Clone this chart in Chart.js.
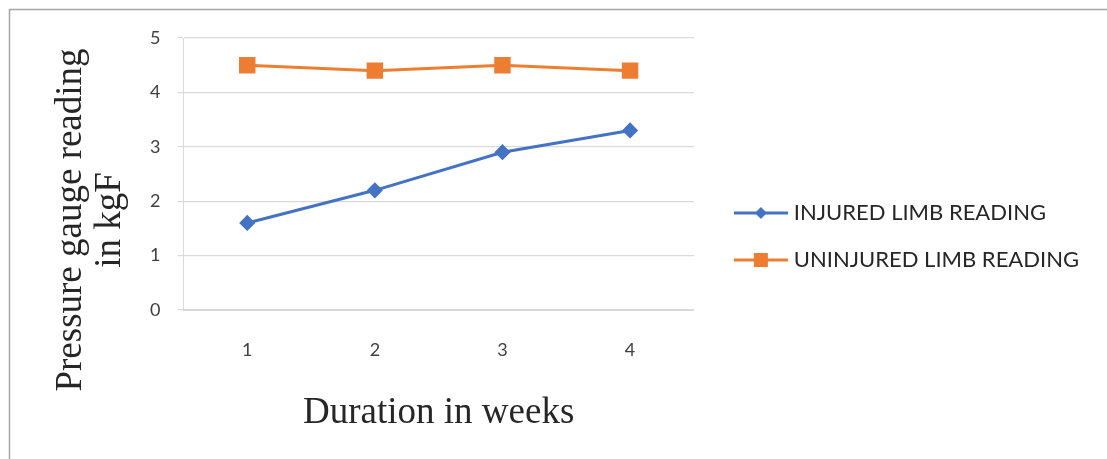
<!DOCTYPE html>
<html>
<head>
<meta charset="utf-8">
<script src="https://cdn.jsdelivr.net/npm/chart.js@4.4.0/dist/chart.umd.min.js"></script>
<style>
  html, body { margin: 0; padding: 0; background: #fff; }
  #wrap { width: 1107px; height: 459px; position: relative; }
</style>
</head>
<body>
<div id="wrap"><canvas id="limbChart"></canvas></div>
<script>
// data
const weeks = ['1', '2', '3', '4'];
const injuredReading = [1.6, 2.2, 2.9, 3.3];
const uninjuredReading = [4.5, 4.4, 4.5, 4.4];
const yTicks = [0, 1, 2, 3, 4, 5];
const yTitleLines = ['Pressure gauge reading', 'in kgF'];

const blue = '#4472C4';
const orange = '#ED7D31';
const gridGrey = '#d9d9d9';
const serif = "'Liberation Serif', serif";

// legend icon: blank lead-in, then a short line with the marker in the middle
function legendIcon(color, shape) {
    const c = document.createElement('canvas');
    c.width = 74; c.height = 16;
    const g = c.getContext('2d');
    g.strokeStyle = color;
    g.lineWidth = 3;
    g.beginPath();
    g.moveTo(20, 8); g.lineTo(74, 8);
    g.stroke();
    g.fillStyle = color;
    const mx = 47;
    if (shape === 'diamond') {
        g.beginPath();
        g.moveTo(mx, 2); g.lineTo(mx + 6, 8); g.lineTo(mx, 14); g.lineTo(mx - 6, 8);
        g.closePath(); g.fill();
    } else {
        g.fillRect(mx - 7, 1, 14, 14);
    }
    return c;
}

// grey outer frame + the y title (centred on the whole frame, not the plot)
const frame = {
    id: 'frame',
    beforeDraw(chart) {
        const { ctx } = chart;
        ctx.save();
        ctx.fillStyle = '#fff';
        ctx.fillRect(0, 0, chart.width, chart.height);
        ctx.strokeStyle = '#a6a6a6';
        ctx.lineWidth = 1.5;
        ctx.strokeRect(9.5, 9.5, chart.width + 20, chart.height + 20);
        ctx.restore();
    },
    afterDraw(chart) {
        const { ctx } = chart;
        ctx.save();
        ctx.translate(71, 220);
        ctx.rotate(-Math.PI / 2);
        ctx.font = '37px ' + serif;
        ctx.fillStyle = '#262626';
        ctx.textAlign = 'center';
        ctx.textBaseline = 'middle';
        yTitleLines.forEach((t, i) => ctx.fillText(t, 0, i * 39));
        ctx.restore();
    }
};

function draw() {
    new Chart(document.getElementById('limbChart'), {
        type: 'line',
        data: {
            labels: weeks,
            datasets: [
                {
                    label: 'INJURED LIMB READING',
                    data: injuredReading,
                    borderColor: blue,
                    backgroundColor: blue,
                    borderWidth: 3,
                    pointStyle: 'rectRot',
                    pointRadius: 6,
                    pointHoverRadius: 6,
                    tension: 0
                },
                {
                    label: 'UNINJURED LIMB READING',
                    data: uninjuredReading,
                    borderColor: orange,
                    backgroundColor: orange,
                    borderWidth: 3,
                    pointStyle: 'rect',
                    pointRadius: 9.5,
                    pointHoverRadius: 9.5,
                    tension: 0
                }
            ]
        },
        options: {
            responsive: true,
            maintainAspectRatio: false,
            animation: false,
            layout: { padding: { top: 38, right: 18, bottom: 24, left: 133 } },
            plugins: {
                tooltip: { enabled: false },
                legend: {
                    position: 'right',
                    maxWidth: 440,
                    labels: {
                        usePointStyle: true,
                        pointStyleWidth: 64,
                        padding: 25,
                        color: '#262626',
                        font: { family: 'Lato', size: 22 },
                        generateLabels(chart) {
                            return chart.data.datasets.map((ds, i) => ({
                                text: ds.label,
                                datasetIndex: i,
                                fontColor: '#262626',
                                pointStyle: legendIcon(ds.borderColor, i === 0 ? 'diamond' : 'square'),
                                lineWidth: 0,
                                strokeStyle: 'transparent',
                                fillStyle: 'transparent',
                                hidden: false
                            }));
                        }
                    }
                }
            },
            scales: {
                x: {
                    offset: true,
                    grid: { display: false },
                    border: { display: true, color: gridGrey },
                    ticks: { color: '#404040', padding: 21, font: { family: 'Lato', size: 18 } },
                    title: {
                        display: true,
                        text: 'Duration in weeks',
                        color: '#262626',
                        padding: { top: 9, bottom: 0 },
                        font: { family: 'Liberation Serif', size: 37 }
                    }
                },
                y: {
                    min: 0,
                    max: 5,
                    afterBuildTicks(axis) { axis.ticks = yTicks.map(v => ({ value: v })); },
                    grid: { color: gridGrey, lineWidth: 1.2, tickLength: 6 },
                    border: { display: true, color: gridGrey },
                    ticks: { color: '#404040', padding: 17, font: { family: 'Lato', size: 18 } }
                }
            }
        },
        plugins: [frame]
    });
}

Promise.all([
    document.fonts.load('22px Lato'),
    document.fonts.load('37px "Liberation Serif"')
]).then(draw, draw);
</script>
</body>
</html>
